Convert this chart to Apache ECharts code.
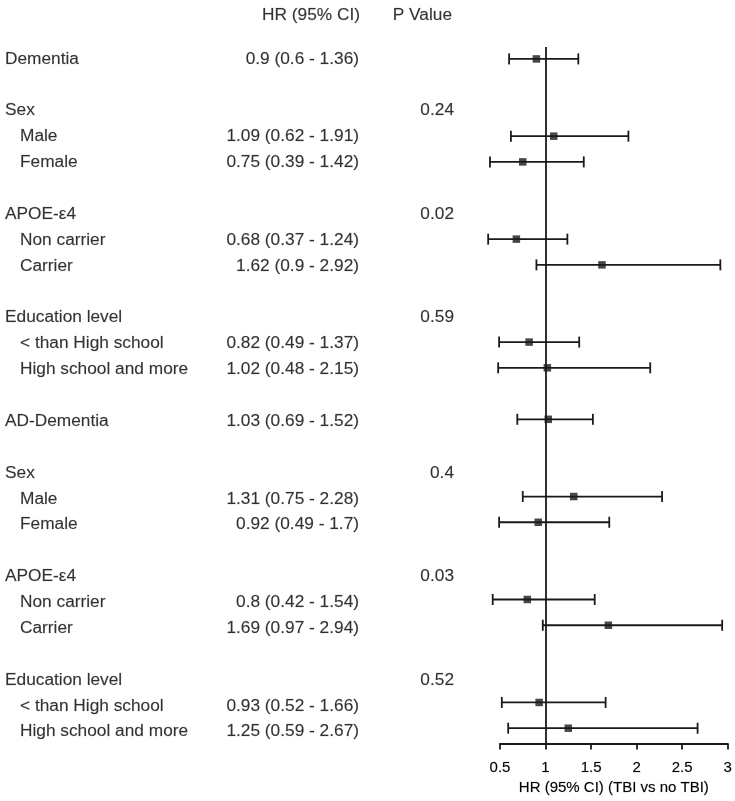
<!DOCTYPE html>
<html>
<head>
<meta charset="utf-8">
<script src="https://cdn.jsdelivr.net/npm/echarts@6/dist/echarts.min.js"></script>
<style>
html,body{margin:0;padding:0;background:#fff;}
#chart{width:735px;height:801px;}
</style>
</head>
<body>
<div id="chart"></div>
<script>
// ---- data ----
var rowLabels = ['Dementia', '', 'Sex', 'Male', 'Female', '', 'APOE-ε4', 'Non carrier', 'Carrier', '',
  'Education level', '< than High school', 'High school and more', '', 'AD-Dementia', '',
  'Sex', 'Male', 'Female', '', 'APOE-ε4', 'Non carrier', 'Carrier', '',
  'Education level', '< than High school', 'High school and more'];
var isSubItem = [false, false, false, true, true, false, false, true, true, false,
  false, true, true, false, false, false,
  false, true, true, false, false, true, true, false,
  false, true, true];
var hrValues = [0.9, null, null, 1.09, 0.75, null, null, 0.68, 1.62, null,
  null, 0.82, 1.02, null, 1.03, null,
  null, 1.31, 0.92, null, null, 0.8, 1.69, null,
  null, 0.93, 1.25];
var ciLower = [0.6, null, null, 0.62, 0.39, null, null, 0.37, 0.9, null,
  null, 0.49, 0.48, null, 0.69, null,
  null, 0.75, 0.49, null, null, 0.42, 0.97, null,
  null, 0.52, 0.59];
var ciUpper = [1.36, null, null, 1.91, 1.42, null, null, 1.24, 2.92, null,
  null, 1.37, 2.15, null, 1.52, null,
  null, 2.28, 1.7, null, null, 1.54, 2.94, null,
  null, 1.66, 2.67];
var pValues = ['', '', '0.24', '', '', '', '0.02', '', '', '',
  '0.59', '', '', '', '', '',
  '0.4', '', '', '', '0.03', '', '', '',
  '0.52', '', ''];
var headerHR = 'HR (95% CI)';
var headerP = 'P Value';
var xTicks = [0.5, 1, 1.5, 2, 2.5, 3];
var xAxisName = 'HR (95% CI) (TBI vs no TBI)';

// ---- layout ----
var ROW0 = 59, ROWH = 25.87, W = 735, H = 801;
var gridTop = 47, gridBottomPx = 747;
var yMin = (gridTop - ROW0) / ROWH;
var yMax = (gridBottomPx - ROW0) / ROWH;
var fullYMin = (0 - ROW0) / ROWH;
var fullYMax = (H - ROW0) / ROWH;
var headerRow = (15.5 - ROW0) / ROWH;
var FONT = '"Liberation Sans", Arial, Helvetica, sans-serif';
var INK = '#1a1a1a';
var TXT_SIZE = 17.3;

var ciData = [], ptData = [];
for (var i = 0; i < rowLabels.length; i++) {
  if (hrValues[i] !== null) {
    ciData.push([ciLower[i], ciUpper[i], i]);
    ptData.push([hrValues[i], i]);
  }
}

function textSeries(name, items, align) {
  return {
    type: 'scatter', name: name, xAxisIndex: 1, yAxisIndex: 1,
    symbolSize: 0, silent: true, animation: false,
    data: items.map(function (it) { return { value: [it[0], it[1]], txt: it[2] }; }),
    label: {
      show: true, position: [0, 0], align: align, verticalAlign: 'middle',
      fontFamily: FONT, fontSize: TXT_SIZE, color: '#000',
      textBorderColor: 'rgba(0,0,0,0.35)', textBorderWidth: 0.4,
      formatter: function (p) { return p.data.txt; }
    }
  };
}

var labelItems = [], hrItems = [], pItems = [];
for (var j = 0; j < rowLabels.length; j++) {
  if (rowLabels[j]) labelItems.push([isSubItem[j] ? 20 : 5, j, rowLabels[j]]);
  if (hrValues[j] !== null) hrItems.push([359, j, hrValues[j] + ' (' + ciLower[j] + ' - ' + ciUpper[j] + ')']);
  if (pValues[j]) pItems.push([454, j, pValues[j]]);
}
hrItems.push([360, headerRow, headerHR]);
pItems.push([452, headerRow, headerP]);

var chart = echarts.init(document.getElementById('chart'), null, { renderer: 'canvas' });
chart.setOption({
  backgroundColor: '#fff',
  animation: false,
  grid: [
    { left: 500, width: 228.5, top: gridTop, height: gridBottomPx - gridTop },
    { left: 0, top: 0, width: W, height: H }
  ],
  xAxis: [
    {
      type: 'value', gridIndex: 0, min: 0.5, max: 3, interval: 0.5, position: 'bottom',
      axisLine: { show: true, onZero: false, lineStyle: { color: INK, width: 1.8 } },
      axisTick: { show: true, length: 6, inside: false, lineStyle: { color: INK, width: 1.8 } },
      axisLabel: {
        margin: 17, fontFamily: FONT, fontSize: 15, color: '#000',
        textBorderColor: 'rgba(0,0,0,0.35)', textBorderWidth: 0.4,
        formatter: function (v) { return xTicks.indexOf(v) >= 0 ? String(v) : ''; }
      },
      splitLine: { show: false },
      name: xAxisName, nameLocation: 'middle', nameGap: 32,
      nameTextStyle: { fontFamily: FONT, fontSize: 15, color: '#000',
        textBorderColor: 'rgba(0,0,0,0.35)', textBorderWidth: 0.4 }
    },
    { type: 'value', gridIndex: 1, min: 0, max: W, show: false }
  ],
  yAxis: [
    { type: 'value', gridIndex: 0, inverse: true, min: yMin, max: yMax, show: false },
    { type: 'value', gridIndex: 1, inverse: true, min: fullYMin, max: fullYMax, show: false }
  ],
  series: [
    {
      type: 'custom', name: 'CI', xAxisIndex: 0, yAxisIndex: 0,
      data: ciData, silent: true,
      renderItem: function (params, api) {
        var a = api.coord([api.value(0), api.value(2)]);
        var b = api.coord([api.value(1), api.value(2)]);
        var cap = 5.5;
        var st = { stroke: INK, lineWidth: 1.8 };
        return {
          type: 'group',
          children: [
            { type: 'line', shape: { x1: a[0], y1: a[1], x2: b[0], y2: b[1] }, style: st },
            { type: 'line', shape: { x1: a[0], y1: a[1] - cap, x2: a[0], y2: a[1] + cap }, style: st },
            { type: 'line', shape: { x1: b[0], y1: b[1] - cap, x2: b[0], y2: b[1] + cap }, style: st }
          ]
        };
      },
      markLine: {
        silent: true, symbol: 'none', label: { show: false },
        lineStyle: { color: INK, width: 1.8, type: 'solid' },
        data: [{ xAxis: 1 }]
      }
    },
    {
      type: 'scatter', name: 'HR', xAxisIndex: 0, yAxisIndex: 0,
      data: ptData, symbol: 'rect', symbolSize: 7.5, silent: true,
      itemStyle: { color: INK }, z: 5
    },
    textSeries('labels', labelItems, 'left'),
    textSeries('hr', hrItems, 'right'),
    textSeries('p', pItems, 'right')
  ]
});
</script>
</body>
</html>
